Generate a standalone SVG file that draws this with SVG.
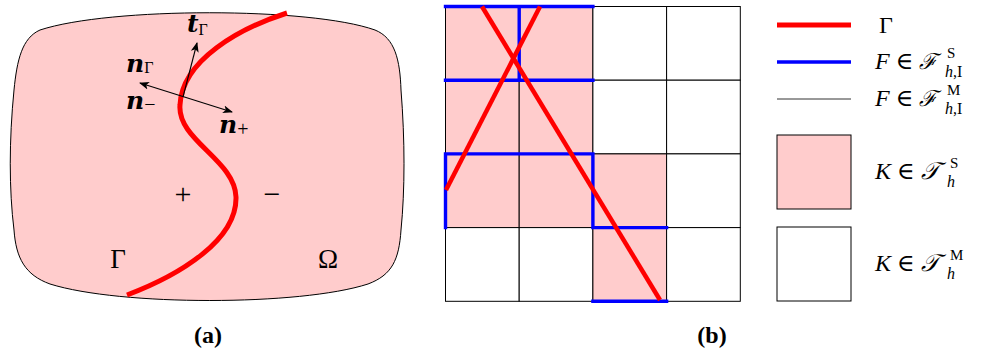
<svg xmlns="http://www.w3.org/2000/svg" width="986" height="353" viewBox="0 0 986 353">
<defs>
<style>
.serif{font-family:"Liberation Serif","DejaVu Serif",serif;fill:#000}
.vecl{font-family:"DejaVu Serif","Liberation Serif",serif;font-style:italic;font-weight:bold;fill:#000}
.it{font-style:italic}
.up{font-family:"Liberation Serif",serif;font-style:normal;font-weight:normal}
.cs{fill:#ffcccc;stroke:#000;stroke-width:1}
.cm{fill:#fff;stroke:#000;stroke-width:1}
.blue{stroke:#0000ff;stroke-width:3.4;fill:none;stroke-linecap:square}
.red{stroke:#ff0000;fill:none}
.vec{stroke:#000;stroke-width:1.1;fill:none}
</style>
<marker id="ah" viewBox="0 0 10 10" refX="9" refY="5" markerWidth="10" markerHeight="10" markerUnits="userSpaceOnUse" orient="auto-start-reverse">
<path d="M0,1 L10,5 L0,9 L2.5,5 Z" fill="#000"/>
</marker>
</defs>

<!-- Panel (a) -->
<g id="domain">
<path d="M40,30 C110,7 310,7 375,30 C395,38 400,60 401,90 C405,140 405,190 401,230 C399,260 392,275 368,284 C300,306 120,306 50,284 C25,275 16,258 14,230 C9,190 9,140 14,90 C17,60 22,38 40,30 Z" fill="#ffcccc" stroke="#000" stroke-width="1"/>
</g>
<g id="interface">
<path class="red" stroke-width="5" d="M287,13 C240,28 182,60 180,105 C177,140 235,160 236,197 C237,240 180,275 127,295"/>
</g>
<g id="vectors">
<line class="vec" x1="183" y1="97" x2="197" y2="43" marker-end="url(#ah)"/>
<line class="vec" x1="140" y1="83" x2="232" y2="112" marker-start="url(#ah)" marker-end="url(#ah)"/>
</g>
<g id="labels-a">
<text class="vecl" x="187" y="32" font-size="25">t<tspan class="up" font-size="16" dy="3">Γ</tspan></text>
<text class="vecl" x="126" y="72" font-size="25">n<tspan class="up" font-size="16" dy="1">Γ</tspan></text>
<text class="vecl" x="126" y="109" font-size="25">n<tspan class="up" font-size="20" dy="2">−</tspan></text>
<text class="vecl" x="219" y="133" font-size="25">n<tspan class="up" font-size="20" dy="3">+</tspan></text>
<text class="serif" x="183" y="204" font-size="30" text-anchor="middle">+</text>
<text class="serif" x="272" y="204" font-size="30" text-anchor="middle">−</text>
<text class="serif" x="118" y="268" font-size="27" text-anchor="middle">Γ</text>
<text class="serif" x="328" y="268" font-size="27" text-anchor="middle">Ω</text>
<text class="serif" x="208" y="343" font-size="24" font-weight="bold" text-anchor="middle">(a)</text>
</g>

<!-- Panel (b) -->
<g id="mesh">
<rect class="cs" x="445.5" y="6.5" width="73.7" height="73.7"/>
<rect class="cs" x="519.2" y="6.5" width="73.7" height="73.7"/>
<rect class="cm" x="592.9" y="6.5" width="73.7" height="73.7"/>
<rect class="cm" x="666.6" y="6.5" width="73.7" height="73.7"/>
<rect class="cs" x="445.5" y="80.2" width="73.7" height="73.7"/>
<rect class="cs" x="519.2" y="80.2" width="73.7" height="73.7"/>
<rect class="cm" x="592.9" y="80.2" width="73.7" height="73.7"/>
<rect class="cm" x="666.6" y="80.2" width="73.7" height="73.7"/>
<rect class="cs" x="445.5" y="153.9" width="73.7" height="73.7"/>
<rect class="cs" x="519.2" y="153.9" width="73.7" height="73.7"/>
<rect class="cs" x="592.9" y="153.9" width="73.7" height="73.7"/>
<rect class="cm" x="666.6" y="153.9" width="73.7" height="73.7"/>
<rect class="cm" x="445.5" y="227.6" width="73.7" height="73.7"/>
<rect class="cm" x="519.2" y="227.6" width="73.7" height="73.7"/>
<rect class="cs" x="592.9" y="227.6" width="73.7" height="73.7"/>
<rect class="cm" x="666.6" y="227.6" width="73.7" height="73.7"/>
</g>
<g id="faces-s">
<path class="blue" d="M445.5,6.5 H592.9 M519.2,6.5 V80.2 M445.5,80.2 H592.9 M445.5,153.9 H592.9 M445.5,153.9 V227.6 M592.9,153.9 V227.6 M592.9,227.6 H666.6 M592.9,301.3 H666.6"/>
</g>
<g id="interface-b">
<line class="red" stroke-width="4.5" x1="482" y1="6.5" x2="660" y2="300"/>
<line class="red" stroke-width="4.5" x1="540" y1="6.5" x2="446" y2="190"/>
</g>
<text class="serif" x="712" y="343" font-size="24" font-weight="bold" text-anchor="middle">(b)</text>

<!-- Legend -->
<g id="legend-gamma">
<line x1="777" y1="25" x2="851" y2="25" stroke="#ff0000" stroke-width="5"/>
<text class="serif" x="879" y="33" font-size="24">Γ</text>
</g>
<g id="legend-fs">
<line x1="777" y1="62" x2="851" y2="62" stroke="#0000ff" stroke-width="3.5"/>
<text class="serif" x="875" y="69" font-size="24"><tspan class="it">F</tspan> ∈ <tspan class="it" font-family="DejaVu Serif" font-size="22">ℱ</tspan></text>
<text class="serif" x="947" y="58" font-size="15">S</text>
<text class="serif" x="945" y="77" font-size="16"><tspan class="it">h</tspan>,I</text>
</g>
<g id="legend-fm">
<line x1="777" y1="99" x2="851" y2="99" stroke="#333" stroke-width="1"/>
<text class="serif" x="875" y="106" font-size="24"><tspan class="it">F</tspan> ∈ <tspan class="it" font-family="DejaVu Serif" font-size="22">ℱ</tspan></text>
<text class="serif" x="947" y="95" font-size="15">M</text>
<text class="serif" x="945" y="114" font-size="16"><tspan class="it">h</tspan>,I</text>
</g>
<g id="legend-ts">
<rect x="777" y="135" width="74" height="74" fill="#ffcccc" stroke="#000" stroke-width="1"/>
<text class="serif" x="875" y="179" font-size="24"><tspan class="it">K</tspan> ∈ <tspan class="it">𝒯</tspan></text>
<text class="serif" x="950" y="168" font-size="15">S</text>
<text class="serif it" x="947" y="187" font-size="16">h</text>
</g>
<g id="legend-tm">
<rect x="777" y="227" width="74" height="74" fill="#fff" stroke="#000" stroke-width="1"/>
<text class="serif" x="875" y="271" font-size="24"><tspan class="it">K</tspan> ∈ <tspan class="it">𝒯</tspan></text>
<text class="serif" x="950" y="260" font-size="15">M</text>
<text class="serif it" x="947" y="279" font-size="16">h</text>
</g>
</svg>
